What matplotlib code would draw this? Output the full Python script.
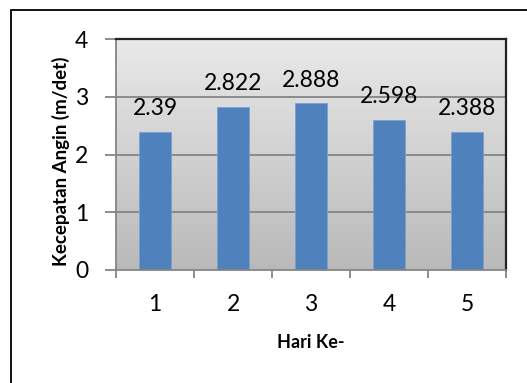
import matplotlib
matplotlib.use("Agg")
import matplotlib.pyplot as plt
import numpy as np
from matplotlib.patches import Rectangle

# data
hari = ["1", "2", "3", "4", "5"]
kecepatan = [2.39, 2.822, 2.888, 2.598, 2.388]
label_teks = ["2.39", "2.822", "2.888", "2.598", "2.388"]
y_ticks = [0, 1, 2, 3, 4]

plt.rcParams['font.family'] = ['Lato', 'DejaVu Sans']

W, H = 527, 383
fig = plt.figure(figsize=(W/100, H/100), dpi=100)

# outer chart border (right/bottom edges are cut off in the original)
fig.patches.append(Rectangle((11/W, -0.1), 1.2, 1 - 10/H + 0.1, transform=fig.transFigure,
                             fill=False, edgecolor='black', linewidth=1.3))

ax = fig.add_axes([116/W, 1 - 270/H, 390/W, 231/H])
x = np.arange(len(hari))

# gradient background of plot area (dark at bottom, light at top)
grad = np.linspace(0, 1, 256).reshape(-1, 1)
ax.imshow(grad, cmap=matplotlib.colors.LinearSegmentedColormap.from_list(
    'g', ['#b9b9b9', '#e9e9e9']), aspect='auto', extent=[0, 1, 0, 1],
    origin='lower', transform=ax.transAxes, zorder=0)

for yv in y_ticks[1:-1]:
    ax.axhline(yv, color='#858585', linewidth=1.3, zorder=1)

ax.bar(x, kecepatan, width=0.41, color='#4f81bd', edgecolor='#7a9fcf',
       linewidth=0.6, zorder=2)

for xi, v, t in zip(x, kecepatan, label_teks):
    ax.text(xi, v + 0.22, t, ha='center', va='bottom', fontsize=16.5, color='black', zorder=3)

ax.set_xlim(-0.5, len(hari) - 0.5)
ax.set_ylim(0, 4)
ax.set_yticks(y_ticks)
ax.set_yticklabels([str(v) for v in y_ticks], fontsize=16.5)
ax.set_xticks(x)
ax.set_xticklabels(hari, fontsize=16.5)
ax.set_xticks(np.arange(-0.5, len(hari)), minor=True)
ax.tick_params(axis='x', which='major', length=0, pad=17)
ax.tick_params(axis='x', which='minor', length=6, width=1.3, color='#858585', direction='out')
ax.tick_params(axis='y', length=8, width=1.3, color='#858585', pad=12)

ax.spines['left'].set_color('#858585')
ax.spines['bottom'].set_color('#858585')
ax.spines['left'].set_linewidth(1.3)
ax.spines['bottom'].set_linewidth(1.3)
ax.spines['top'].set_color('#222222')
ax.spines['right'].set_color('#222222')
ax.spines['top'].set_linewidth(1.6)
ax.spines['right'].set_linewidth(1.6)

ax.set_xlabel("Hari Ke-", fontsize=13, fontweight='bold', labelpad=14)
ax.set_ylabel("Kecepatan Angin (m/det)", fontsize=13.5, fontweight='bold')
ax.yaxis.set_label_coords(-0.118, 0.47)

fig.savefig("out.png", dpi=100)
